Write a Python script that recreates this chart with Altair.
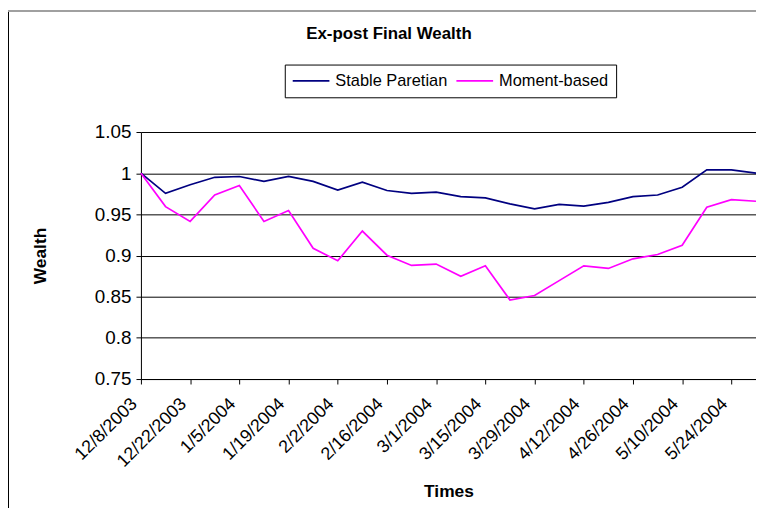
import altair as alt
import pandas as pd

dates = ["2003-12-08", "2003-12-15", "2003-12-22", "2003-12-29", "2004-01-05",
         "2004-01-12", "2004-01-19", "2004-01-26", "2004-02-02", "2004-02-09",
         "2004-02-16", "2004-02-23", "2004-03-01", "2004-03-08", "2004-03-15",
         "2004-03-22", "2004-03-29", "2004-04-05", "2004-04-12", "2004-04-19",
         "2004-04-26", "2004-05-03", "2004-05-10", "2004-05-17", "2004-05-24",
         "2004-05-31"]

stable = [1.000, 0.9755, 0.986, 0.995, 0.996, 0.990, 0.996, 0.990, 0.9795, 0.989,
          0.979, 0.9755, 0.977, 0.9715, 0.970, 0.9627, 0.9566, 0.9622, 0.960, 0.9646,
          0.9715, 0.9735, 0.983, 1.004, 1.004, 1.000]

moment = [1.000, 0.9594, 0.9414, 0.9735, 0.985, 0.9414, 0.9546, 0.9088, 0.8936, 0.9297,
          0.9004, 0.888, 0.8896, 0.8747, 0.8875, 0.846, 0.8514, 0.8695, 0.8875, 0.8843,
          0.896, 0.9012, 0.9124, 0.9586, 0.9679, 0.9659]

series_names = ["Stable Paretian", "Moment-based"]
series_colors = ["#000080", "#FF00FF"]

# tick dates (every two weeks)
tick_dates = [(2003, 12, 8), (2003, 12, 22), (2004, 1, 5), (2004, 1, 19), (2004, 2, 2),
              (2004, 2, 16), (2004, 3, 1), (2004, 3, 15), (2004, 3, 29), (2004, 4, 12),
              (2004, 4, 26), (2004, 5, 10), (2004, 5, 24)]
y_ticks = [0.75, 0.8, 0.85, 0.9, 0.95, 1.0, 1.05]

df = pd.DataFrame({
    "date": dates * 2,
    "wealth": stable + moment,
    "series": [series_names[0]] * len(dates) + [series_names[1]] * len(dates),
})

FONT = "Liberation Sans"

x_enc = alt.X(
    "date:T",
    title="Times",
    scale=alt.Scale(
        type="utc",
        nice=False,
        domain=[alt.DateTime(year=2003, month=12, date=8, utc=True),
                alt.DateTime(year=2004, month=5, date=31, utc=True)],
    ),
    axis=alt.Axis(
        values=[alt.DateTime(year=y, month=m, date=d, utc=True) for (y, m, d) in tick_dates],
        format="%-m/%-d/%Y",
        labelAngle=-45,
        labelAlign="right",
        labelBaseline="middle",
        labelFontSize=18,
        labelFont=FONT,
        labelColor="black",
        labelPadding=17,
        labelOffset=-7,
        labelOverlap=False,
        labelFlush=False,
        grid=False,
        tickColor="black",
        tickSize=5,
        domainColor="black",
        titleFont=FONT,
        titleFontSize=17.5,
        titleFontWeight="bold",
        titleColor="black",
        titlePadding=12,
    ),
)

y_enc = alt.Y(
    "wealth:Q",
    title="Wealth",
    scale=alt.Scale(domain=[0.75, 1.05], nice=False, zero=False),
    axis=alt.Axis(
        values=y_ticks,
        format=".2~f",
        labelFontSize=19,
        labelFont=FONT,
        labelColor="black",
        labelPadding=5,
        grid=True,
        gridColor="black",
        gridWidth=1,
        tickColor="black",
        tickSize=5,
        domainColor="black",
        titleFont=FONT,
        titleFontSize=17.5,
        titleFontWeight="bold",
        titleColor="black",
        titlePadding=45,
    ),
)

lines = alt.Chart(df).mark_line(strokeWidth=1.7).encode(
    x=x_enc,
    y=y_enc,
    color=alt.Color(
        "series:N",
        scale=alt.Scale(domain=series_names, range=series_colors),
        legend=alt.Legend(
            title=None,
            orient="none",
            legendX=145,
            legendY=-68,
            direction="horizontal",
            strokeColor="black",
            fillColor="white",
            padding=7,
            symbolType="stroke",
            symbolSize=1369,
            symbolStrokeWidth=1.7,
            clipHeight=19,
            labelFontSize=16.5,
            labelFont=FONT,
            labelColor="black",
            columnPadding=8,
            labelOffset=5,
        ),
    ),
)

frame_left = alt.Chart(df).mark_rule(color="black", strokeWidth=1).encode(
    x=alt.value(-134), y=alt.value(-122), y2=alt.value(379)
)
frame_top = alt.Chart(df).mark_rule(color="#a0a0a0", strokeWidth=1).encode(
    x=alt.value(-134), x2=alt.value(620), y=alt.value(-122)
)

chart = alt.layer(frame_left, frame_top, lines).properties(
    width=620,
    height=249,
    autosize=alt.AutoSizeParams(type="none"),
    padding={"left": 134, "top": 123, "right": 0, "bottom": 130},
    title=alt.Title(
        "Ex-post Final Wealth",
        font=FONT,
        fontSize=17,
        fontWeight="bold",
        color="black",
        anchor="middle",
        frame="group",
        dx=-60,
        offset=-33,
    ),
).configure_view(
    stroke="#808080", strokeWidth=1
).configure(background="white")

chart.save("out.html", embed_options={"renderer": "svg", "actions": False})
